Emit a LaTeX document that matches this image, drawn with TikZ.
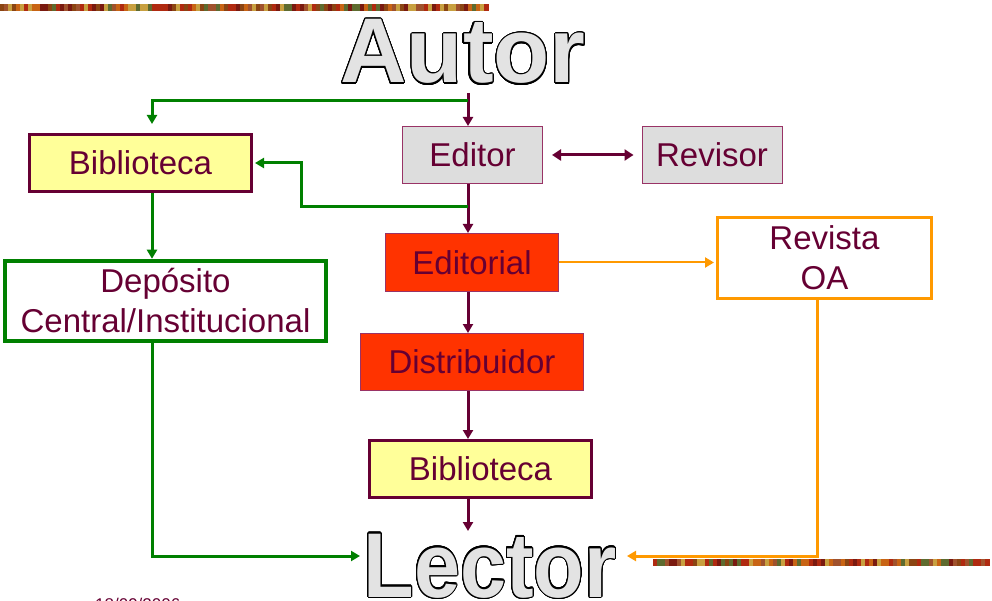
\documentclass[tikz,border=0pt]{standalone}
\usepackage{fontspec}
\setmainfont{Liberation Sans}
\usepackage{graphicx}
\usepackage{contour}
\contourlength{1.1pt}
\contournumber{32}
\usetikzlibrary{arrows.meta}
\definecolor{maroon}{HTML}{660033}
\definecolor{lmaroon}{HTML}{993366}
\definecolor{gfill}{HTML}{DDDDDD}
\definecolor{yfill}{HTML}{FFFF99}
\definecolor{rfill}{HTML}{FF3300}
\definecolor{ogreen}{HTML}{008000}
\definecolor{oorange}{HTML}{FF9900}
\definecolor{sa}{HTML}{8B4513}
\definecolor{sb}{HTML}{7A1A10}
\definecolor{sc}{HTML}{C86414}
\definecolor{sd}{HTML}{5E6B2F}
\definecolor{se}{HTML}{C8A040}
\definecolor{sf}{HTML}{B02A10}
\definecolor{sg}{HTML}{A0522D}
\begin{document}
\begin{tikzpicture}[x=1pt,y=-1pt,
  box/.style={draw, inner sep=0pt, text=maroon, align=center,
    font=\fontsize{33}{40}\selectfont},
  ybox/.style={box, fill=yfill, draw=maroon, line width=3pt, minimum width=222pt, minimum height=57pt},
  gbox/.style={box, fill=gfill, draw=lmaroon, line width=1pt, minimum width=140pt, minimum height=57pt},
  rbox/.style={box, fill=rfill, draw=lmaroon, line width=1pt},
  tip/.style={-{Triangle[length=9pt,width=10pt]}},
  mline/.style={draw=maroon, line width=3pt, tip},
  gline/.style={draw=ogreen, line width=3pt, tip},
  oline/.style={draw=oorange, line width=3pt, tip},
  big/.style={inner sep=0pt, anchor=base, font=\fontsize{92}{92}\bfseries\selectfont, text=gray!22}
]
\useasboundingbox (0,0) rectangle (992,601);
\fill[white] (0,0) rectangle (992,601);

% decorative strips
\pgfmathdeclarerandomlist{strip}{{sa}{sb}{sc}{sd}{se}{sf}{sg}}
\pgfmathsetseed{7}
\foreach \i in {0,4,...,484} {
  \pgfmathrandomitem{\c}{strip}
  \fill[\c] (\i,4) rectangle (\i+4.6,11);
}
\foreach \i in {653,657,...,988} {
  \pgfmathrandomitem{\c}{strip}
  \fill[\c] (\i,559) rectangle (\i+4.6,566);
}

% titles
\node[big] (autor) at (463,83) {\contour{black}{Autor}};
\node[big] (lector) at (490,597) {\scalebox{0.9}[1]{\contour{black}{Lector}}};

% boxes
\node[ybox] (bib1) at (140.5,163) {Biblioteca};
\node[gbox] (editor) at (472.5,155) {Editor};
\node[gbox] (revisor) at (712,155) {Revisor};
\node[rbox, minimum width=173pt, minimum height=58pt] (editorial) at (472,262.5) {Editorial};
\node[box, draw=oorange, line width=3pt, minimum width=214pt, minimum height=81pt] (revista) at (824.5,258) {Revista\\OA};
\node[box, draw=ogreen, line width=4.5pt, minimum width=321pt, minimum height=80pt] (deposito) at (165.5,301) {Depósito\\Central/Institucional};
\node[rbox, minimum width=223pt, minimum height=57pt] (distrib) at (472,362) {Distribuidor};
\node[ybox] (bib2) at (480.5,469) {Biblioteca};

% helper coordinates
\coordinate (spine) at (468,0);
\coordinate (autorfoot) at (468,93);
\coordinate (gsplit) at (468,101);
\coordinate (gsplit2) at (468,207);
\coordinate (lectortop) at (468,531);
\coordinate (lectorw) at (360,556);
\coordinate (lectore) at (627,556);
\coordinate (bib1in) at (152,124);

% maroon spine
\draw[mline] (autorfoot) -- (editor.north -| spine);
\draw[mline] (editor.south -| spine) -- (editorial.north -| spine);
\draw[mline] (editorial.south -| spine) -- (distrib.north -| spine);
\draw[mline] (distrib.south -| spine) -- (bib2.north -| spine);
\draw[mline] (bib2.south -| spine) -- (lectortop);
\draw[draw=maroon, line width=3pt, {Triangle[length=9pt,width=11pt]}-{Triangle[length=9pt,width=11pt]}]
  ([xshift=9pt]editor.east) -- ([xshift=-8pt]revisor.west);

% green
\draw[gline] (gsplit) -| (bib1in);
\draw[gline] (gsplit2) -- (301,207) |- ([xshift=2pt]bib1.east);
\draw[gline] (bib1.south -| bib1in) -- (deposito.north -| bib1in);
\draw[gline] (deposito.south -| bib1in) |- (lectorw);

% orange
\draw[oline, line width=2pt] (editorial.east) -- ([xshift=-2pt]revista.west |- editorial.east);
\draw[oline] (revista.south -| 817,0) |- (lectore);

% date
\node[anchor=base west, inner sep=0pt, text=maroon, font=\fontsize{17}{17}\selectfont] (date) at (95,610) {18/09/2006};
\end{tikzpicture}
\end{document}
